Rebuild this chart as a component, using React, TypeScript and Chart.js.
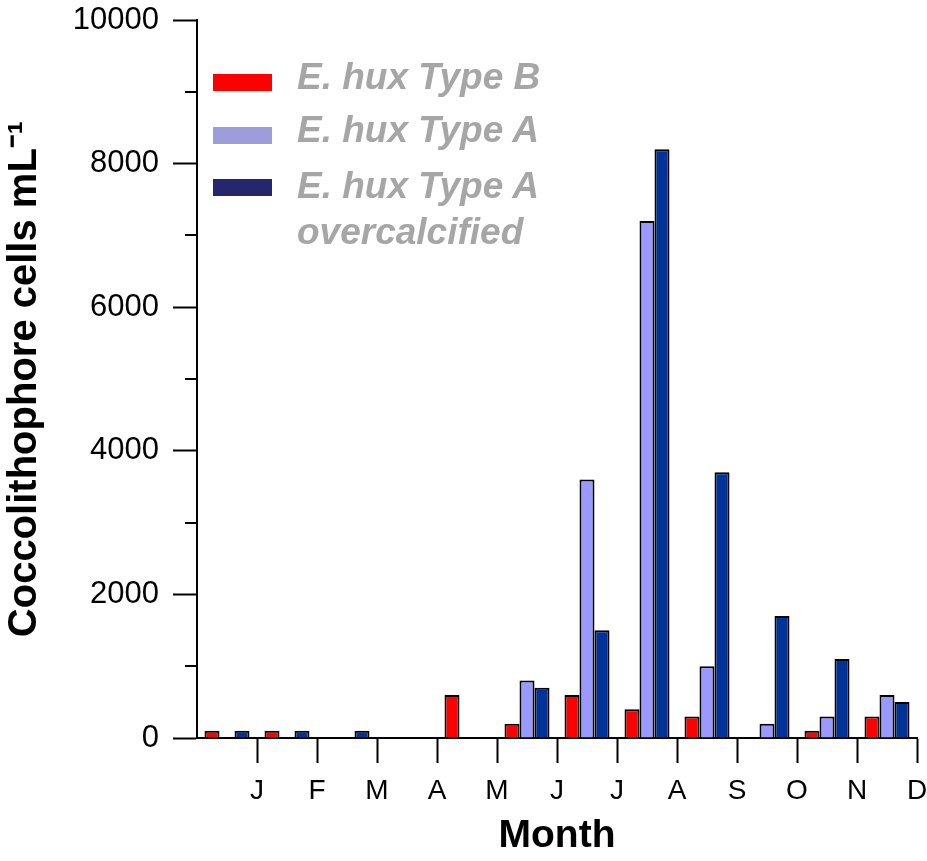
import React, { useEffect, useRef } from 'react';
import { Chart, registerables } from 'chart.js';

Chart.register(...registerables);

// ---- data ----
const categories = ['Jan', 'Feb', 'Mar', 'Apr', 'May', 'Jun', 'Jul', 'Aug', 'Sep', 'Oct', 'Nov', 'Dec'];
const monthTicks = ['J', 'F', 'M', 'A', 'M', 'J', 'J', 'A', 'S', 'O', 'N', 'D'];
const typeB = [100, 100, 0, 0, 600, 200, 600, 400, 300, 0, 100, 300];
const typeA = [0, 0, 0, 0, 0, 800, 3600, 7200, 1000, 200, 300, 600];
const typeAOver = [100, 100, 100, 0, 0, 700, 1500, 8200, 3700, 1700, 1100, 500];
const minorTickValues = [1000, 3000, 5000, 7000, 9000];

const seriesNames = ['E. hux Type B', 'E. hux Type A', 'E. hux Type A overcalcified'];

const FONT = "'Liberation Sans', Arial, sans-serif";

const minorTicksPlugin = {
  id: 'minorTicks',
  afterDraw(chart: any) {
    const y = chart.scales.y;
    const ctx = chart.ctx;
    ctx.save();
    ctx.strokeStyle = '#000';
    ctx.lineWidth = 2;
    for (const v of minorTickValues) {
      const py = Math.round(y.getPixelForValue(v));
      ctx.beginPath();
      ctx.moveTo(y.right - 12, py);
      ctx.lineTo(y.right, py);
      ctx.stroke();
    }
    ctx.restore();
  },
};

export default function App() {
  const ref = useRef<HTMLCanvasElement | null>(null);

  useEffect(() => {
    document.body.style.margin = '0';
    const canvas = ref.current;
    if (!canvas) return;
    const chart = new Chart(canvas, {
      type: 'bar',
      data: {
        labels: categories,
        datasets: [
          { label: seriesNames[0], data: typeB, backgroundColor: '#FF0000', borderColor: '#000', borderWidth: 2, xAxisID: 'x', yAxisID: 'y' },
          { label: seriesNames[1], data: typeA, backgroundColor: '#9999FF', borderColor: '#000', borderWidth: 2, xAxisID: 'x', yAxisID: 'y' },
          { label: seriesNames[2], data: typeAOver, backgroundColor: '#003399', borderColor: '#000', borderWidth: 2, xAxisID: 'x', yAxisID: 'y' },
        ],
      },
      options: {
        responsive: false,
        animation: false,
        devicePixelRatio: 1,
        layout: { padding: { top: 20, right: 10, left: 0, bottom: 0 } },
        datasets: { bar: { barPercentage: 1, categoryPercentage: 0.75 } },
        plugins: { legend: { display: false }, tooltip: { enabled: false } },
        scales: {
          x: { type: 'category', display: false, offset: true },
          x2: {
            type: 'linear',
            position: 'bottom',
            min: 0,
            max: 12,
            offset: false,
            afterFit: (s: any) => { s.height = 123; s.paddingLeft = 0; s.paddingRight = 0; },
            border: { display: true, color: '#000', width: 2 },
            grid: {
              offset: false,
              drawOnChartArea: false,
              drawTicks: true,
              tickLength: 25,
              tickWidth: 2,
              tickColor: (c: any) => (c.tick && c.tick.value === 0 ? 'rgba(0,0,0,0)' : '#000'),
            },
            ticks: {
              stepSize: 1,
              autoSkip: false,
              maxRotation: 0,
              padding: 11,
              color: '#000',
              font: { family: FONT, size: 28 },
              callback: (v: any) => (v >= 1 && v <= 12 ? monthTicks[v - 1] : ''),
            },
            title: {
              display: true,
              text: 'Month',
              color: '#000',
              font: { family: FONT, size: 39, weight: 'bold' },
              padding: { top: 0, bottom: 1 },
            },
          },
          y: {
            type: 'linear',
            position: 'left',
            min: 0,
            max: 10000,
            afterFit: (s: any) => { s.width = 197; s.paddingTop = 0; s.paddingBottom = 0; },
            border: { display: true, color: '#000', width: 2 },
            grid: { drawOnChartArea: false, drawTicks: true, tickLength: 24, tickWidth: 2, tickColor: '#000' },
            ticks: {
              stepSize: 2000,
              padding: 14,
              color: '#000',
              font: { family: FONT, size: 31 },
              callback: (v: any) => String(v),
            },
            title: {
              display: true,
              text: 'Coccolithophore cells mL⁻¹',
              color: '#000',
              font: { family: FONT, size: 40, weight: 'bold' },
              padding: { top: 1, bottom: 0 },
            },
          },
        },
      } as any,
      plugins: [minorTicksPlugin],
    });
    return () => chart.destroy();
  }, []);

  const textStyle: React.CSSProperties = {
    position: 'absolute',
    left: 297,
    fontFamily: FONT,
    fontSize: 37,
    lineHeight: '37px',
    fontWeight: 'bold',
    fontStyle: 'italic',
    color: '#A6A6A6',
    whiteSpace: 'nowrap',
  };
  const sw = (top: number, color: string): React.CSSProperties => ({
    position: 'absolute', left: 213, top, width: 59, height: 17, background: color,
  });

  return (
    <div style={{ position: 'relative', width: 927, height: 861, overflow: 'hidden', background: '#fff' }}>
      <canvas ref={ref} width={927} height={861} style={{ width: 927, height: 861, display: 'block' }} />
      <div style={sw(74, '#FF0000')} />
      <div style={sw(127, '#9D9DDC')} />
      <div style={sw(179, '#26266F')} />
      <div style={{ ...textStyle, top: 58 }}>{seriesNames[0]}</div>
      <div style={{ ...textStyle, top: 111 }}>{seriesNames[1]}</div>
      <div style={{ ...textStyle, top: 167 }}>E. hux Type A</div>
      <div style={{ ...textStyle, top: 213 }}>overcalcified</div>
    </div>
  );
}
